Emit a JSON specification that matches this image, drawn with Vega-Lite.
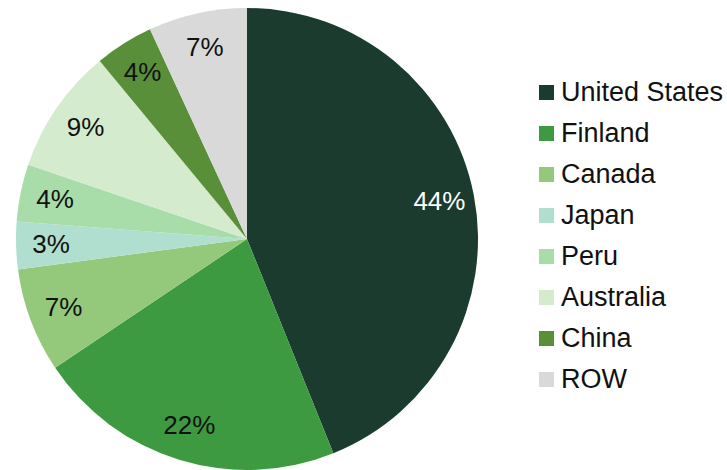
{
  "$schema": "https://vega.github.io/schema/vega-lite/v6.json",
  "width": 494,
  "height": 478,
  "autosize": {"type": "none"},
  "padding": {"left": 0, "top": 0, "right": 233, "bottom": 0},
  "background": "white",
  "config": {"view": {"stroke": null}, "font": "Liberation Sans"},
  "data": {
    "values": [
      {"country": "United States", "share": 0.439, "rank": 1},
      {"country": "Finland", "share": 0.217, "rank": 2},
      {"country": "Canada", "share": 0.073, "rank": 3},
      {"country": "Japan", "share": 0.033, "rank": 4},
      {"country": "Peru", "share": 0.040, "rank": 5},
      {"country": "Australia", "share": 0.088, "rank": 6},
      {"country": "China", "share": 0.041, "rank": 7},
      {"country": "ROW", "share": 0.069, "rank": 8}
    ]
  },
  "encoding": {
    "theta": {"field": "share", "type": "quantitative", "stack": true},
    "order": {"field": "rank", "type": "ordinal"},
    "color": {
      "field": "country",
      "type": "nominal",
      "scale": {
        "domain": ["United States", "Finland", "Canada", "Japan", "Peru", "Australia", "China", "ROW"],
        "range": ["#1b3b2f", "#3d9a40", "#94c97c", "#b0dfcf", "#a8dca8", "#d5ebce", "#5a8f3a", "#d9d9d9"]
      },
      "legend": {
        "title": null,
        "orient": "none",
        "legendX": 533,
        "legendY": 79,
        "padding": 0,
        "symbolType": "square",
        "symbolSize": 225,
        "symbolStrokeWidth": 0,
        "symbolOpacity": 1,
        "labelFontSize": 27,
        "labelFont": "Liberation Sans",
        "labelColor": "#111111",
        "labelOffset": 1,
        "rowPadding": 13,
        "labelLimit": 300
      }
    }
  },
  "layer": [
    {"mark": {"type": "arc", "outerRadius": 231, "stroke": null}},
    {
      "mark": {"type": "text", "radius": 196, "fontSize": 26, "font": "Liberation Sans", "baseline": "middle", "align": "center"},
      "encoding": {
        "text": {"field": "share", "type": "quantitative", "format": ".0%"},
        "color": {
          "condition": {"test": "datum.country === 'United States'", "value": "#ffffff"},
          "value": "#111111"
        }
      }
    }
  ]
}
